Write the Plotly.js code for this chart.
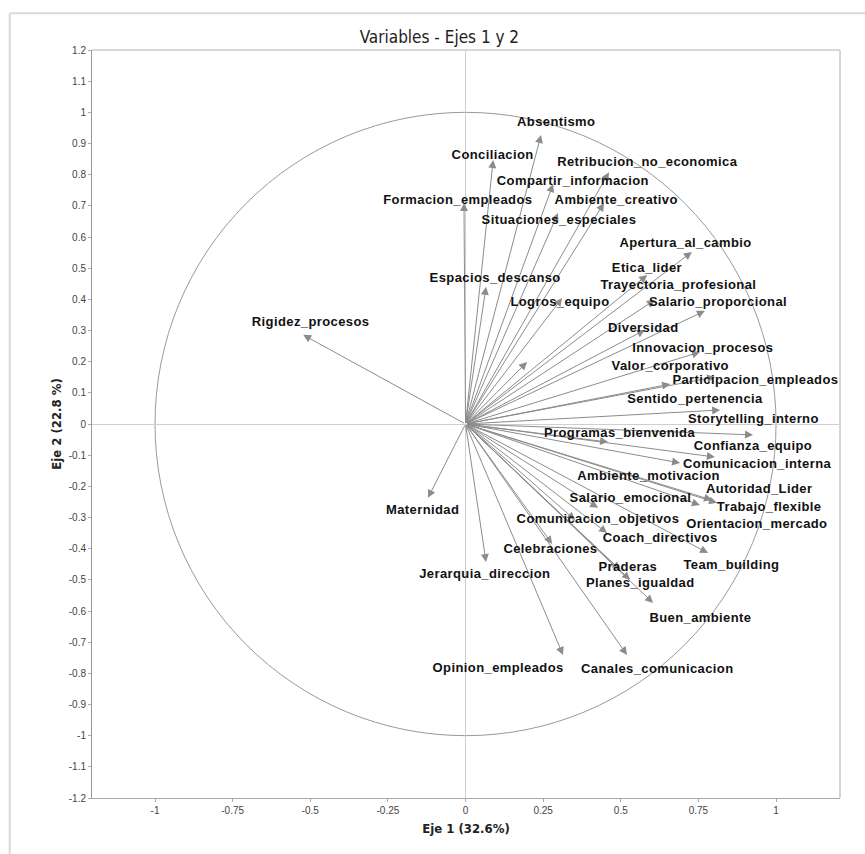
<!DOCTYPE html>
<html>
<head>
<meta charset="utf-8">
<script src="https://cdn.plot.ly/plotly-3.0.1.min.js"></script>
<style>
  html, body { margin: 0; padding: 0; background: #fff; }
  #chart { width: 865px; height: 854px; }
  #chart .annotation-text { letter-spacing: 0.4px; }
</style>
</head>
<body>
<div id="chart"></div>
<script>
// Variable names and their coordinates on the first two factorial axes
const variables = [
  "Absentismo", "Conciliacion", "Retribucion_no_economica", "Compartir_informacion",
  "Formacion_empleados", "Ambiente_creativo", "Situaciones_especiales", "Apertura_al_cambio",
  "Etica_lider", "Espacios_descanso", "Trayectoria_profesional", "Logros_equipo",
  "Salario_proporcional", "Rigidez_procesos", "Diversidad", "Innovacion_procesos",
  "Valor_corporativo", "Participacion_empleados", "Sentido_pertenencia", "Storytelling_interno",
  "Programas_bienvenida", "Confianza_equipo", "Comunicacion_interna", "Ambiente_motivacion",
  "Autoridad_Lider", "Trabajo_flexible", "Salario_emocional", "Orientacion_mercado",
  "Maternidad", "Comunicacion_objetivos", "Coach_directivos", "Celebraciones",
  "Team_building", "Praderas", "Jerarquia_direccion", "Planes_igualdad",
  "Buen_ambiente", "Opinion_empleados", "Canales_comunicacion"
];

const eje1 = [
  0.243, 0.089, 0.462, 0.282,
  -0.005, 0.446, 0.298, 0.729,
  0.585, 0.066, 0.610, 0.311,
  0.771, -0.523, 0.578, 0.755,
  0.198, 0.804, 0.659, 0.820,
  0.459, 0.926, 0.803, 0.691,
  0.794, 0.810, 0.427, 0.755,
  -0.121, 0.353, 0.456, 0.279,
  0.781, 0.498, 0.066, 0.530,
  0.604, 0.314, 0.520
];

const eje2 = [
  0.927, 0.847, 0.808, 0.770,
  0.709, 0.709, 0.677, 0.552,
  0.478, 0.440, 0.398, 0.404,
  0.363, 0.286, 0.302, 0.231,
  0.199, 0.151, 0.128, 0.045,
  -0.058, -0.035, -0.106, -0.125,
  -0.244, -0.253, -0.269, -0.260,
  -0.237, -0.308, -0.350, -0.385,
  -0.414, -0.468, -0.443, -0.500,
  -0.574, -0.741, -0.741
];

// Label placement: pixel offset of each label centre from its arrow tip
const labelDx = [
  15, -1, 39, 20,
  -6, 12, 1, -6,
  0, 9, 24, -2,
  13, 7, -2, 3,
  143, 40, 25, 33,
  12, 0, 43, -32,
  47, 52, 32, 57,
  -5, 23, 53, -2,
  23, 8, -1, 10,
  47, -65, 30
];
const labelDy = [
  14, 6, 11, 4,
  4, 4, -6, 9,
  8, 9, 15, -3,
  9, 13, 2, 5,
  -4, -3, -14, -9,
  10, -11, -6, -13,
  12, -4, 10, -18,
  -12, 1, -4, -5,
  -11, 3, -11, -3,
  -15, -13, -14
];

const arrowColor = "#8c8c8c";

// Correlation circle of radius 1
const circleShape = {
  type: "circle", xref: "x", yref: "y",
  x0: -1, y0: -1, x1: 1, y1: 1,
  line: { color: "#9a9a9a", width: 1 },
  layer: "below"
};

const annotations = [];
variables.forEach((name, i) => {
  // arrow from the origin to the variable's coordinates
  annotations.push({
    x: eje1[i], y: eje2[i], xref: "x", yref: "y",
    ax: 0, ay: 0, axref: "x", ayref: "y",
    text: "", showarrow: true,
    arrowhead: 2, arrowsize: 1.6, arrowwidth: 1, arrowcolor: arrowColor,
    standoff: 0, startstandoff: 0
  });
});
variables.forEach((name, i) => {
  annotations.push({
    x: eje1[i], y: eje2[i], xref: "x", yref: "y",
    xshift: labelDx[i], yshift: labelDy[i],
    text: "<b>" + name + "</b>", showarrow: false,
    xanchor: "center", yanchor: "middle",
    font: { family: "Liberation Sans, Arial, sans-serif", size: 13, color: "#111" }
  });
});

const narrow = "DejaVu Sans Condensed, Liberation Sans Narrow, Arial Narrow, sans-serif";
const tickFont = { family: "Liberation Sans, Arial, sans-serif", size: 10, color: "#444" };

const layout = {
  width: 865, height: 854,
  margin: { l: 92, r: 25, t: 50, b: 56 },
  paper_bgcolor: "#ffffff", plot_bgcolor: "#ffffff",
  showlegend: false,
  title: {
    text: "Variables - Ejes 1 y 2",
    x: 0.508, xanchor: "center", y: 0.957, yanchor: "middle",
    font: { family: narrow, size: 17, color: "#222" }
  },
  xaxis: {
    range: [-1.203, 1.206],
    tickvals: [-1, -0.75, -0.5, -0.25, 0, 0.25, 0.5, 0.75, 1],
    ticktext: ["-1", "-0.75", "-0.5", "-0.25", "0", "0.25", "0.5", "0.75", "1"],
    ticks: "outside", ticklen: 3, tickcolor: "#aaa",
    tickfont: tickFont,
    showgrid: false,
    zeroline: true, zerolinecolor: "#cfcfcf", zerolinewidth: 1,
    showline: true, linecolor: "#a8a8a8", linewidth: 1,
    title: { text: "<b>Eje 1 (32.6%)</b>", standoff: 8,
      font: { family: narrow, size: 13, color: "#222" } }
  },
  yaxis: {
    range: [-1.2, 1.2],
    tickvals: [-1.2, -1.1, -1, -0.9, -0.8, -0.7, -0.6, -0.5, -0.4, -0.3, -0.2, -0.1, 0,
               0.1, 0.2, 0.3, 0.4, 0.5, 0.6, 0.7, 0.8, 0.9, 1, 1.1, 1.2],
    ticktext: ["-1.2", "-1.1", "-1", "-0.9", "-0.8", "-0.7", "-0.6", "-0.5", "-0.4", "-0.3", "-0.2", "-0.1", "0",
               "0.1", "0.2", "0.3", "0.4", "0.5", "0.6", "0.7", "0.8", "0.9", "1", "1.1", "1.2"],
    ticks: "outside", ticklen: 3, tickcolor: "#aaa",
    tickfont: tickFont,
    showgrid: false,
    zeroline: true, zerolinecolor: "#cfcfcf", zerolinewidth: 1,
    showline: true, linecolor: "#999", linewidth: 1,
    title: { text: "<b>Eje 2 (22.8 %)</b>", standoff: 4,
      font: { family: narrow, size: 13, color: "#222" } }
  },
  shapes: [
    circleShape,
    // light top and right edges of the plotting area
    { type: "line", xref: "paper", yref: "paper", x0: 0, x1: 1, y0: 1, y1: 1,
      line: { color: "#d6d6d6", width: 2 } },
    { type: "line", xref: "paper", yref: "paper", x0: 1, x1: 1, y0: 0, y1: 1,
      line: { color: "#d6d6d6", width: 2 } },
    // outer frame around the chart
    { type: "line", xref: "paper", yref: "paper", x0: -0.11, x1: 1.2, y0: 1.049, y1: 1.049,
      line: { color: "#d9d9d9", width: 2 } },
    { type: "line", xref: "paper", yref: "paper", x0: -0.11, x1: -0.11, y0: -0.2, y1: 1.049,
      line: { color: "#d9d9d9", width: 2 } }
  ],
  annotations: annotations
};

Plotly.newPlot("chart", [], layout, { displayModeBar: false, staticPlot: true });
</script>
</body>
</html>
